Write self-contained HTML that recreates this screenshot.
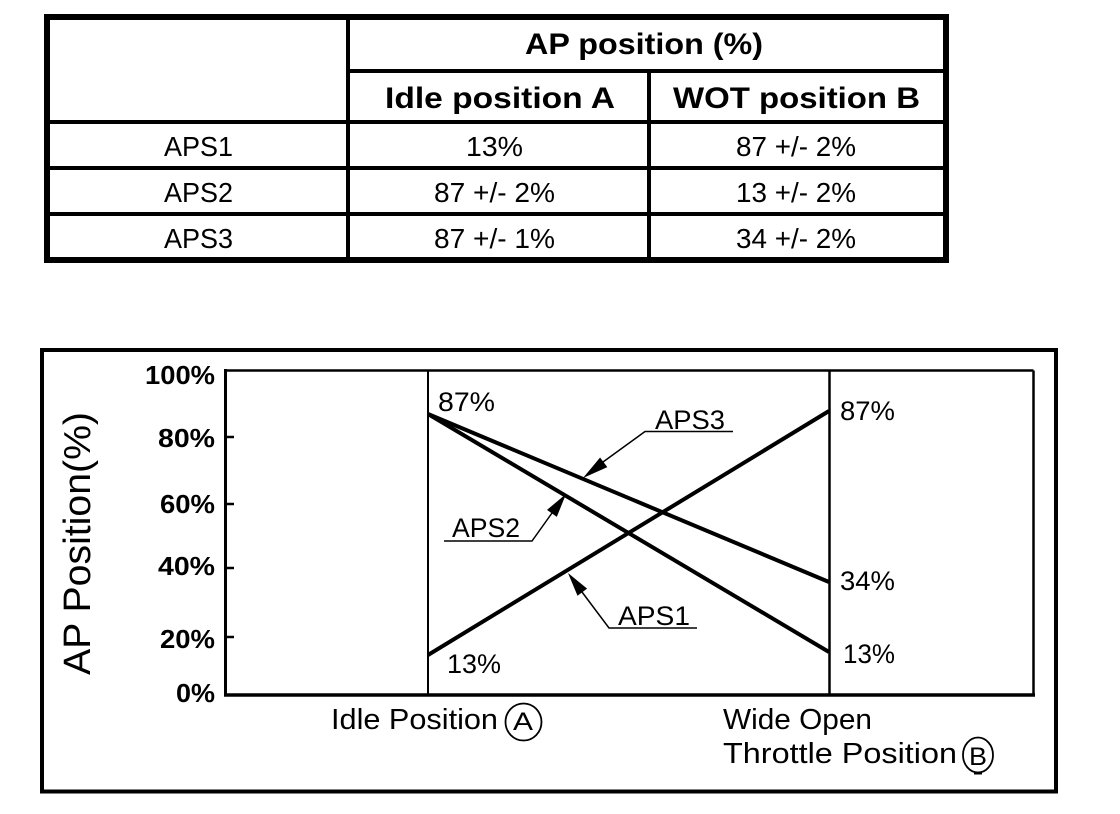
<!DOCTYPE html>
<html>
<head>
<meta charset="utf-8">
<style>
  html, body { margin:0; padding:0; background:#fff; }
  svg { display:block; }
  text { font-family: "Liberation Sans", Arial, sans-serif; fill:#000; }
</style>
</head>
<body>
<svg width="1120" height="814" viewBox="0 0 1120 814" xmlns="http://www.w3.org/2000/svg">
  <rect x="0" y="0" width="1120" height="814" fill="#fff"/>

  <!-- ===== TABLE ===== -->
  <g stroke="#000" fill="none">
    <rect x="47" y="17" width="899" height="243" stroke-width="6"/>
    <line x1="348" y1="17" x2="348" y2="260" stroke-width="4"/>
    <line x1="649" y1="71" x2="649" y2="260" stroke-width="4"/>
    <line x1="348" y1="71" x2="946" y2="71" stroke-width="4"/>
    <line x1="47" y1="122" x2="946" y2="122" stroke-width="4"/>
    <line x1="47" y1="168" x2="946" y2="168" stroke-width="4"/>
    <line x1="47" y1="214" x2="946" y2="214" stroke-width="4"/>
  </g>
  <g font-weight="bold" font-size="30">
    <text x="525" y="54" textLength="238" lengthAdjust="spacingAndGlyphs">AP position (%)</text>
    <text x="385" y="108" textLength="230" lengthAdjust="spacingAndGlyphs">Idle position A</text>
    <text x="673" y="108" textLength="247" lengthAdjust="spacingAndGlyphs">WOT position B</text>
  </g>
  <g font-size="28">
    <text x="164" y="156" textLength="69" lengthAdjust="spacingAndGlyphs">APS1</text>
    <text x="164" y="202" textLength="69" lengthAdjust="spacingAndGlyphs">APS2</text>
    <text x="164" y="248" textLength="69" lengthAdjust="spacingAndGlyphs">APS3</text>

    <text x="466" y="156" textLength="57" lengthAdjust="spacingAndGlyphs">13%</text>
    <text x="434" y="202" textLength="121" lengthAdjust="spacingAndGlyphs">87 +/- 2%</text>
    <text x="434" y="248" textLength="121" lengthAdjust="spacingAndGlyphs">87 +/- 1%</text>

    <text x="736" y="156" textLength="120" lengthAdjust="spacingAndGlyphs">87 +/- 2%</text>
    <text x="736" y="202" textLength="120" lengthAdjust="spacingAndGlyphs">13 +/- 2%</text>
    <text x="736" y="248" textLength="120" lengthAdjust="spacingAndGlyphs">34 +/- 2%</text>
  </g>

  <!-- ===== CHART ===== -->
  <rect x="42" y="350" width="1014" height="441.5" fill="none" stroke="#000" stroke-width="4"/>

  <!-- plot frame -->
  <g stroke="#000" fill="none">
    <line x1="225.5" y1="370.5" x2="1033.5" y2="370.5" stroke-width="2.5"/>
    <line x1="1033.5" y1="370.5" x2="1033.5" y2="695" stroke-width="2.5"/>
    <line x1="225.5" y1="369" x2="225.5" y2="696.5" stroke-width="3"/>
    <line x1="224" y1="695" x2="1035" y2="695" stroke-width="3.5"/>
    <line x1="428" y1="370.5" x2="428" y2="695" stroke-width="2"/>
    <line x1="829.5" y1="370.5" x2="829.5" y2="695" stroke-width="2.5"/>
    <!-- ticks -->
    <line x1="225" y1="437" x2="234" y2="437" stroke-width="2.5"/>
    <line x1="225" y1="504" x2="234" y2="504" stroke-width="2.5"/>
    <line x1="225" y1="568" x2="234" y2="568" stroke-width="2.5"/>
    <line x1="225" y1="637" x2="234" y2="637" stroke-width="2.5"/>
  </g>

  <!-- tick labels -->
  <g font-weight="bold" font-size="26">
    <text x="145" y="384" textLength="70" lengthAdjust="spacingAndGlyphs">100%</text>
    <text x="158" y="447" textLength="57" lengthAdjust="spacingAndGlyphs">80%</text>
    <text x="160" y="513" textLength="55" lengthAdjust="spacingAndGlyphs">60%</text>
    <text x="158" y="575" textLength="57" lengthAdjust="spacingAndGlyphs">40%</text>
    <text x="160" y="648" textLength="55" lengthAdjust="spacingAndGlyphs">20%</text>
    <text x="176" y="702" textLength="39" lengthAdjust="spacingAndGlyphs">0%</text>
  </g>

  <!-- y axis title -->
  <text transform="translate(90,543.5) rotate(-90)" text-anchor="middle" font-size="38" textLength="263" lengthAdjust="spacingAndGlyphs">AP Position(%)</text>

  <!-- series -->
  <g stroke="#000" stroke-width="4" stroke-linecap="butt">
    <line x1="428" y1="655" x2="829" y2="411"/>
    <line x1="428" y1="414" x2="829" y2="652"/>
    <line x1="428" y1="414" x2="829" y2="582"/>
  </g>

  <!-- value labels -->
  <g font-size="27">
    <text x="438" y="411" textLength="57" lengthAdjust="spacingAndGlyphs">87%</text>
    <text x="447" y="673" textLength="54" lengthAdjust="spacingAndGlyphs">13%</text>
    <text x="840" y="420" textLength="55" lengthAdjust="spacingAndGlyphs">87%</text>
    <text x="840" y="590" textLength="55" lengthAdjust="spacingAndGlyphs">34%</text>
    <text x="843" y="663" textLength="52" lengthAdjust="spacingAndGlyphs">13%</text>
  </g>

  <!-- callouts -->
  <g font-size="27">
    <text x="655" y="429" textLength="70" lengthAdjust="spacingAndGlyphs">APS3</text>
    <text x="452" y="537" textLength="68" lengthAdjust="spacingAndGlyphs">APS2</text>
    <text x="618" y="625" textLength="72" lengthAdjust="spacingAndGlyphs">APS1</text>
  </g>
  <g stroke="#000" stroke-width="1.5" fill="none">
    <polyline points="603,462 645,431.5 733,431.5"/>
    <polyline points="552,513 532,541 444,541"/>
    <polyline points="582,592 609,628 697,628"/>
  </g>
  <g fill="#000">
    <polygon points="583,478 607.3,467.1 600.1,457.5"/>
    <polygon points="566,494 556.8,516.9 547.0,509.9"/>
    <polygon points="568,573 587.1,588.6 577.5,595.8"/>
  </g>

  <!-- x labels -->
  <g font-size="29">
    <text x="331" y="729" textLength="167" lengthAdjust="spacingAndGlyphs">Idle Position</text>
    <text x="723" y="729" textLength="149" lengthAdjust="spacingAndGlyphs">Wide Open</text>
    <text x="723" y="763" textLength="234" lengthAdjust="spacingAndGlyphs">Throttle Position</text>
  </g>
  <ellipse cx="523.5" cy="722" rx="18" ry="18.5" fill="none" stroke="#000" stroke-width="1.8"/>
  <text x="513" y="730" font-size="25" textLength="20" lengthAdjust="spacingAndGlyphs">A</text>
  <ellipse cx="978" cy="755" rx="15" ry="17.5" fill="none" stroke="#000" stroke-width="1.8"/>
  <text x="969" y="765" font-size="25" textLength="18" lengthAdjust="spacingAndGlyphs">B</text>
  <line x1="974" y1="773" x2="982" y2="773" stroke="#000" stroke-width="3"/>
</svg>
</body>
</html>
